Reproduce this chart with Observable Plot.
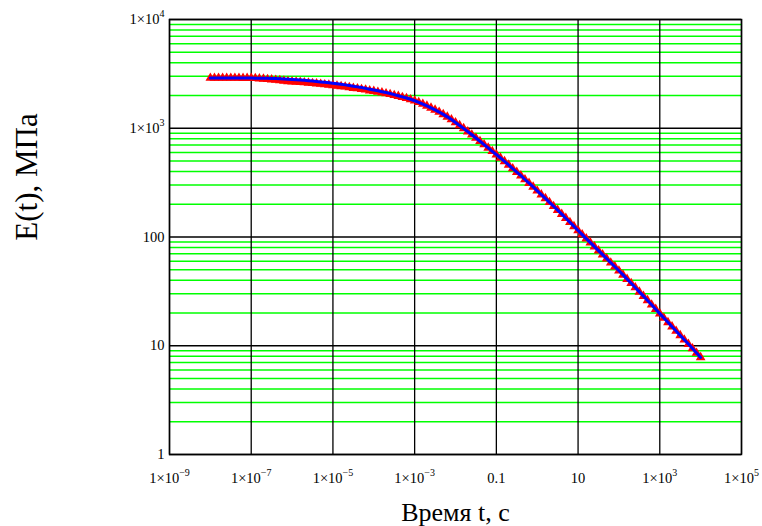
<!DOCTYPE html>
<html><head><meta charset="utf-8">
<script src="https://cdn.jsdelivr.net/npm/d3@7"></script>
<script src="https://cdn.jsdelivr.net/npm/@observablehq/plot@0.6"></script>
<style>body{margin:0;background:#fff;} svg{display:block}</style>
</head><body><div id="chart"></div>
<script>
// time (log10 of t, s)
const logT = [
-8.0,-7.9,-7.8,-7.7,-7.6,-7.5,-7.4,-7.3,-7.2,-7.1,
-7.0,-6.9,-6.8,-6.7,-6.6,-6.5,-6.4,-6.3,-6.2,-6.1,
-6.0,-5.9,-5.8,-5.7,-5.6,-5.5,-5.4,-5.3,-5.2,-5.1,
-5.0,-4.9,-4.8,-4.7,-4.6,-4.5,-4.4,-4.3,-4.2,-4.1,
-4.0,-3.9,-3.8,-3.7,-3.6,-3.5,-3.4,-3.3,-3.2,-3.1,
-3.0,-2.9,-2.8,-2.7,-2.6,-2.5,-2.4,-2.3,-2.2,-2.1,
-2.0,-1.9,-1.8,-1.7,-1.6,-1.5,-1.4,-1.3,-1.2,-1.1,
-1.0,-0.9,-0.8,-0.7,-0.6,-0.5,-0.4,-0.3,-0.2,-0.1,
0.0,0.1,0.2,0.3,0.4,0.5,0.6,0.7,0.8,0.9,
1.0,1.1,1.2,1.3,1.4,1.5,1.6,1.7,1.8,1.9,
2.0,2.1,2.2,2.3,2.4,2.5,2.6,2.7,2.8,2.9,
3.0,3.1,3.2,3.3,3.4,3.5,3.6,3.7,3.8,3.9,
4.0];
// fitted model E(t), MPa (blue line)
const fitE = [
2897,2897,2897,2896,2896,2895,2895,2894,2893,2892,
2891,2889,2886,2882,2877,2871,2862,2852,2840,2826,
2812,2795,2777,2758,2737,2715,2692,2669,2645,2620,
2594,2566,2536,2505,2472,2438,2402,2365,2327,2288,
2249,2210,2170,2128,2084,2039,1993,1945,1897,1847,
1790,1733,1670,1606,1541,1475,1409,1342,1273,1202,
1130,1062,996,932,871,813,759,708,659,614,
572,533,495,460,426,395,366,338,313,289,
266,245.4,226.4,208.4,191.8,176.5,162.1,148.9,136.7,125.2,
114.7,105.3,96.7,88.8,81.6,74.9,68.8,63.2,58.0,53.3,
48.9,44.8,41.0,37.5,34.3,31.3,28.6,26.1,23.8,21.7,
19.74,18.0,16.42,14.97,13.66,12.45,11.36,10.36,9.43,8.58,
7.81];
// measured E(t), MPa (red triangles)
const dataE = [
2897,2897,2897,2896,2896,2895,2895,2894,2893,2892,
2891,2880,2857,2839,2819,2799,2776,2752,2726,2699,
2685,2669,2652,2634,2614,2593,2571,2549,2526,2502,
2477,2451,2422,2405,2373,2340,2318,2282,2257,2219,
2193,2155,2127,2085,2053,2008,1973,1926,1888,1838,
1790,1733,1670,1606,1541,1475,1409,1342,1273,1202,
1130,1062,996,932,871,813,759,708,659,614,
572,533,495,460,426,395,366,338,313,289,
266,245.4,226.4,208.4,191.8,176.5,162.1,148.9,136.7,125.2,
114.7,105.3,96.7,88.8,81.6,74.9,68.8,63.2,58.0,53.3,
48.9,44.8,41.0,37.5,34.3,31.3,28.6,26.1,23.8,21.7,
19.74,18.0,16.42,14.97,13.66,12.45,11.36,10.36,9.43,8.58,
7.81];

const xTicks = [1e-9, 1e-7, 1e-5, 1e-3, 0.1, 10, 1e3, 1e5];
const xTickLabels = ["1×10^−9","1×10^−7","1×10^−5","1×10^−3","0.1","10","1×10^3","1×10^5"];
const yTicks = [1, 10, 100, 1e3, 1e4];
const yTickLabels = ["1","10","100","1×10^3","1×10^4"];
const yMinor = [2,3,4,5,6,7,8,9,20,30,40,50,60,70,80,90,200,300,400,500,600,700,800,900,2000,3000,4000,5000,6000,7000,8000,9000];
const xTitle = "Время t, с";
const yTitle = "E(t), МПа";

const serif = "'Liberation Serif', 'Times New Roman', serif";
const rows = logT.map((l, i) => ({t: Math.pow(10, l), fit: fitE[i], data: dataE[i]}));
const labelFor = (ticks, labels) => d => {
  const k = ticks.findIndex(v => Math.abs(Math.log10(v) - Math.log10(d)) < 1e-6);
  return k >= 0 ? labels[k] : "";
};

const plot = Plot.plot({
  width: 762, height: 526,
  marginLeft: 169, marginRight: 21, marginTop: 19, marginBottom: 72,
  style: {fontFamily: serif, fontSize: "14.5px", background: "white", color: "black"},
  x: {type: "log", domain: [1e-9, 1e5], ticks: xTicks, tickFormat: labelFor(xTicks, xTickLabels), tickSize: 0, tickPadding: 18, label: null},
  y: {type: "log", domain: [1, 1e4], ticks: yTicks, tickFormat: labelFor(yTicks, yTickLabels), tickSize: 0, tickPadding: 5, label: null},
  marks: [
    Plot.ruleY(yMinor, {stroke: "#00ff00", strokeWidth: 1.5}),
    Plot.ruleY(yTicks, {stroke: "black", strokeWidth: 1.3}),
    Plot.ruleX(xTicks, {stroke: "black", strokeWidth: 1.3}),
    Plot.dot(rows, {x: "t", y: "data", symbol: "triangle", r: 3.6, fill: "red", stroke: "none"}),
    Plot.line(rows, {x: "t", y: "fit", stroke: "blue", strokeWidth: 3}),
    Plot.frame({stroke: "black", strokeWidth: 1.5}),
    Plot.text([yTitle], {frameAnchor: "left", textAnchor: "middle", lineAnchor: "middle", text: d => d, rotate: -90, dx: -142, dy: -60, fontSize: 31, fontFamily: serif}),
    Plot.text([xTitle], {frameAnchor: "bottom", textAnchor: "middle", lineAnchor: "middle", text: d => d, dy: 58, fontSize: 26, fontFamily: serif})
  ]
});

// superscript exponents in tick labels
const ns = "http://www.w3.org/2000/svg";
plot.querySelectorAll("text").forEach(el => {
  const s = el.textContent;
  if (s.includes("^") && el.querySelector("tspan") === null) {
    const [base, exp] = s.split("^");
    el.textContent = "";
    const a = document.createElementNS(ns, "tspan");
    a.textContent = base;
    const b = document.createElementNS(ns, "tspan");
    b.setAttribute("dy", "-7");
    b.setAttribute("font-size", "10");
    b.textContent = exp;
    el.appendChild(a); el.appendChild(b);
  }
});
document.getElementById("chart").appendChild(plot);
</script>
</body></html>
